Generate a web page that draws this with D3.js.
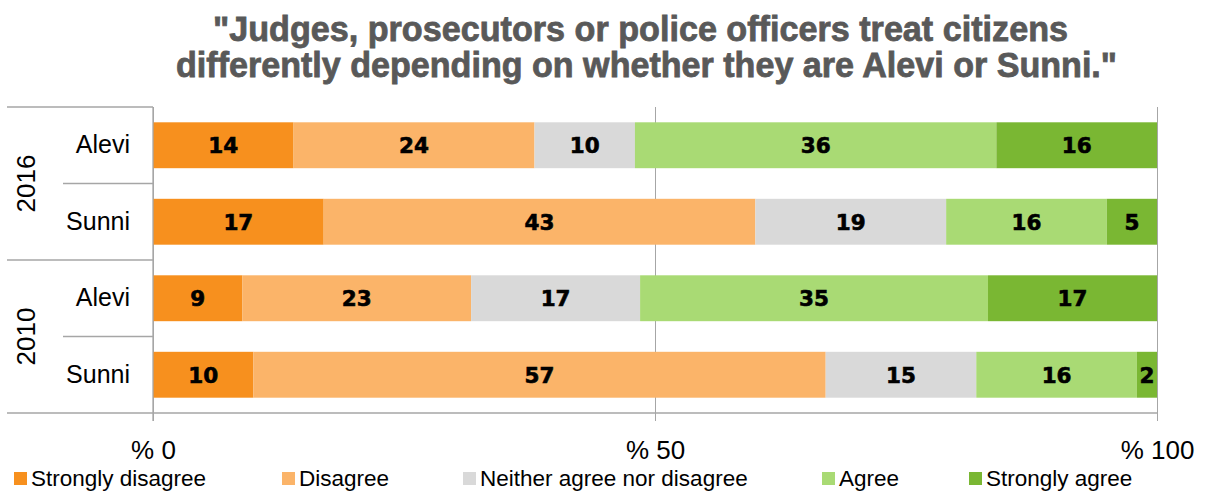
<!DOCTYPE html>
<html><head><meta charset="utf-8">
<script src="https://cdn.jsdelivr.net/npm/d3@7"></script>
<style>
body{margin:0;background:#fff;}
svg{display:block;}
</style></head>
<body><svg id="chart" width="1211" height="495"></svg>
<script>
const titleLines = ['"Judges, prosecutors or police officers treat citizens', 'differently depending on whether they are Alevi or Sunni."'];
const years = ["2016", "2010"];
const groups = ["Alevi", "Sunni"];
const responses = ["Strongly disagree", "Disagree", "Neither agree nor disagree", "Agree", "Strongly agree"];
const colors = ["#F7901E", "#FBB469", "#D9D9D9", "#A9DA74", "#7AB733"];
const rowKeys = ["2016 Alevi", "2016 Sunni", "2010 Alevi", "2010 Sunni"];
const stronglyDisagree = [14, 17, 9, 10];
const disagree = [24, 43, 23, 57];
const neither = [10, 19, 17, 15];
const agree = [36, 16, 35, 16];
const stronglyAgree = [16, 5, 17, 2];
const tickValues = [0, 50, 100];

const series = [stronglyDisagree, disagree, neither, agree, stronglyAgree];
const rows = rowKeys.map((k, i) => {
  const o = {key: k};
  responses.forEach((r, j) => o[r] = series[j][i]);
  o.total = d3.sum(series, s => s[i]);
  return o;
});
// normalize to 100%
const normRows = rows.map(r => {
  const o = {key: r.key};
  responses.forEach(k => o[k] = r[k] / r.total * 100);
  return o;
});
const stack = d3.stack().keys(responses)(normRows);

const svg = d3.select("#chart");
const x = d3.scaleLinear().domain([0, 100]).range([153, 1157]);
const y = d3.scaleBand().domain(rowKeys).range([107, 413]).paddingInner(0.4).paddingOuter(0.2);

// title
const titleWidths = [855, 941];
svg.append("g").selectAll("text").data(titleLines).join("text")
  .attr("x", (d, i) => i === 0 ? 640.5 : 646.5).attr("y", (d, i) => 41 + i * 36)
  .attr("text-anchor", "middle")
  .attr("textLength", (d, i) => titleWidths[i]).attr("lengthAdjust", "spacingAndGlyphs")
  .attr("font-family", "'Liberation Sans', Arial, sans-serif")
  .attr("font-weight", "bold").attr("font-size", 35).attr("fill", "#595959")
  .attr("stroke", "#595959").attr("stroke-width", 0.8)
  .text(d => d);

const lineColor = "#A6A6A6";
// gridlines
svg.append("g").attr("transform", "translate(0,413)")
  .call(d3.axisBottom(x).tickValues(tickValues).tickSize(-306).tickFormat(""))
  .call(g => g.select(".domain").remove())
  .call(g => g.selectAll("line").attr("stroke", lineColor));

// bars
const layers = svg.append("g").selectAll("g").data(stack).join("g")
  .attr("fill", (d, i) => colors[i]);
layers.selectAll("rect").data(d => d).join("rect")
  .attr("x", d => x(d[0])).attr("width", d => x(d[1]) - x(d[0]))
  .attr("y", d => y(d.data.key)).attr("height", y.bandwidth());

// bar labels
svg.append("g").selectAll("g").data(stack).join("g")
  .selectAll("text").data((d, j) => d.map((v, i) => ({v, i, j}))).join("text")
  .attr("x", d => x((d.v[0] + d.v[1]) / 2))
  .attr("y", d => y(rowKeys[d.i]) + y.bandwidth() / 2 + 8)
  .attr("text-anchor", "middle")
  .attr("font-family", "'DejaVu Sans', sans-serif").attr("font-weight", "bold")
  .attr("font-size", 21.5).attr("fill", "#000")
  .attr("stroke", "#000").attr("stroke-width", 0.6)
  .text(d => series[d.j][d.i]);

// x axis
const xAxis = svg.append("g").attr("transform", "translate(0,413)")
  .call(d3.axisBottom(x).tickValues(tickValues).tickSize(8).tickPadding(20).tickFormat(d => "% " + d));
xAxis.select(".domain").remove();
xAxis.selectAll("line").attr("stroke", lineColor);
xAxis.selectAll("text").attr("font-family", "'Liberation Sans', sans-serif").attr("font-size", 26).attr("fill", "#000");

// category structure lines
const cat = svg.append("g").attr("stroke", lineColor).attr("stroke-width", 1.3);
cat.append("line").attr("x1", 7).attr("x2", x(100)).attr("y1", 413).attr("y2", 413);
cat.append("line").attr("x1", x(0)).attr("x2", x(0)).attr("y1", 107).attr("y2", 421);
[0, 2].forEach(i => {
  const top = y(rowKeys[i]) - y.step() * y.paddingInner() / 2;
  cat.append("line").attr("x1", 7).attr("x2", x(0)).attr("y1", top).attr("y2", top);
});
[1, 3].forEach(i => {
  const top = y(rowKeys[i]) - y.step() * y.paddingInner() / 2;
  cat.append("line").attr("x1", 63).attr("x2", x(0)).attr("y1", top).attr("y2", top);
});

// category labels
svg.append("g").selectAll("text").data(rowKeys).join("text")
  .attr("x", 130).attr("y", d => y(d) + y.bandwidth() / 2 + 8)
  .attr("text-anchor", "end")
  .attr("font-family", "'Liberation Sans', sans-serif").attr("font-size", 25).attr("fill", "#000")
  .text(d => d.split(" ")[1]);

// year labels
svg.append("g").selectAll("text").data(years).join("text")
  .attr("transform", (d, i) => {
    const cy = (y(rowKeys[i * 2]) + y(rowKeys[i * 2 + 1]) + y.bandwidth()) / 2;
    return `translate(35,${cy}) rotate(-90)`;
  })
  .attr("text-anchor", "middle")
  .attr("font-family", "'Liberation Sans', sans-serif").attr("font-size", 26).attr("fill", "#000")
  .text(d => d);

// legend
const legendX = [14, 282, 463, 822, 969];
const legend = svg.append("g").selectAll("g").data(responses).join("g")
  .attr("transform", (d, i) => `translate(${legendX[i]},472)`);
legend.append("rect").attr("width", 13).attr("height", 13).attr("fill", (d, i) => colors[i]);
legend.append("text").attr("x", 17).attr("y", 14)
  .attr("font-family", "'Liberation Sans', sans-serif").attr("font-size", 22.5).attr("fill", "#000")
  .text(d => d);
</script>
</body></html>
